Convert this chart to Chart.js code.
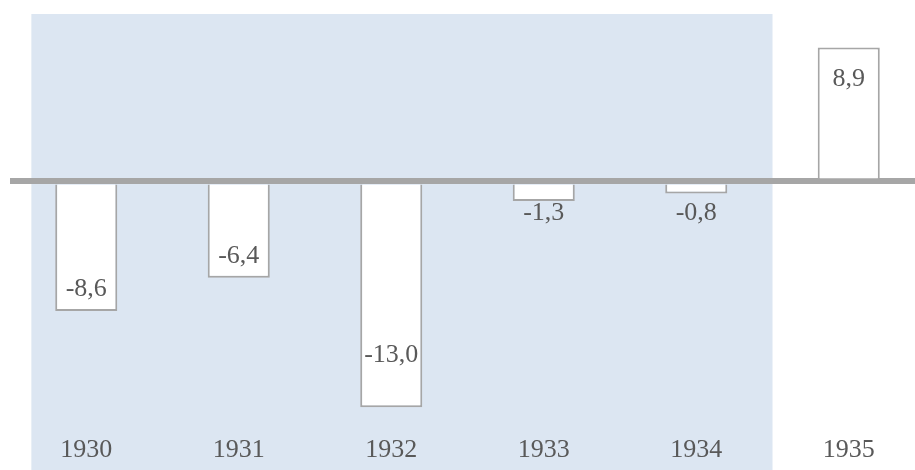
<!DOCTYPE html>
<html>
<head>
<meta charset="utf-8">
<script src="https://cdn.jsdelivr.net/npm/chart.js@4"></script>
<style>
  html, body { margin: 0; padding: 0; background: #fff; overflow: hidden; }
  #wrap { width: 925px; height: 470px; position: relative; }
</style>
</head>
<body>
<div id="wrap"><canvas id="chart"></canvas></div>
<script>
  // años y valores
  const years = ['1930', '1931', '1932', '1933', '1934', '1935'];
  // largo de barra tal como aparece dibujado (1932 sale más largo que su etiqueta)
  const barValues = [-8.6, -6.4, -15.0, -1.3, -0.8, 8.9];
  // valores de las etiquetas
  const labelValues = [-8.6, -6.4, -13.0, -1.3, -0.8, 8.9];
  const labelText = ['-8,6', '-6,4', '-13,0', '-1,3', '-0,8', '8,9'];
  const shadedUntil = 4; // sombreado hasta 1934 inclusive

  const GRAY = '#a6a6a6';
  const TEXT = '#595959';
  const FONT = 'Liberation Serif';

  // fondo azul claro detrás del periodo sombreado
  const shadePlugin = {
    id: 'shade',
    beforeDraw(chart){
      const x = chart.scales.x, a = chart.chartArea, ctx = chart.ctx;
      const step = x.getPixelForValue(1) - x.getPixelForValue(0);
      const left = x.getPixelForValue(0) - step * 0.36;
      const right = (x.getPixelForValue(shadedUntil) + x.getPixelForValue(shadedUntil + 1)) / 2;
      ctx.save();
      ctx.fillStyle = '#dce6f2';
      ctx.fillRect(left, a.top, right - left, chart.height - a.top);
      ctx.restore();
    }
  };

  // etiquetas de valor dentro/fuera de cada barra
  const labelPlugin = {
    id: 'valueLabels',
    afterDatasetsDraw(chart){
      const x = chart.scales.x, y = chart.scales.y, ctx = chart.ctx;
      const zero = y.getPixelForValue(0);
      ctx.save();
      ctx.font = `26px "${FONT}"`;
      ctx.fillStyle = TEXT;
      ctx.textAlign = 'center';
      ctx.textBaseline = 'middle';
      labelValues.forEach((v, i) => {
        const end = y.getPixelForValue(v);
        let cy;
        if(v < 0) cy = Math.max(end - 22, zero + 32);
        else cy = end + 32;
        ctx.fillText(labelText[i], x.getPixelForValue(i), cy);
      });
      ctx.restore();
    }
  };

  new Chart(document.getElementById('chart'), {
    type: 'bar',
    data: {
      labels: years,
      datasets: [{
        data: barValues,
        backgroundColor: '#ffffff',
        borderColor: GRAY,
        borderWidth: 2,
        barPercentage: 0.407,
        categoryPercentage: 1
      }]
    },
    options: {
      responsive: true,
      maintainAspectRatio: false,
      animation: false,
      layout: { padding: { left: 10, right: 0, top: 14, bottom: 0 } },
      plugins: { legend: { display: false }, tooltip: { enabled: false } },
      scales: {
        x: {
          grid: { display: false, drawTicks: false },
          border: { display: false },
          ticks: { color: TEXT, font: { family: FONT, size: 26 }, padding: 4, maxRotation: 0 }
        },
        y: {
          min: -16.57,
          max: 11.13,
          z: 1,
          ticks: { display: false, stepSize: 1 },
          border: { display: false },
          grid: {
            drawTicks: false,
            color: c => c.tick && c.tick.value === 0 ? GRAY : 'rgba(0,0,0,0)',
            lineWidth: c => c.tick && c.tick.value === 0 ? 6 : 0
          }
        }
      }
    },
    plugins: [shadePlugin, labelPlugin]
  });
</script>
</body>
</html>
